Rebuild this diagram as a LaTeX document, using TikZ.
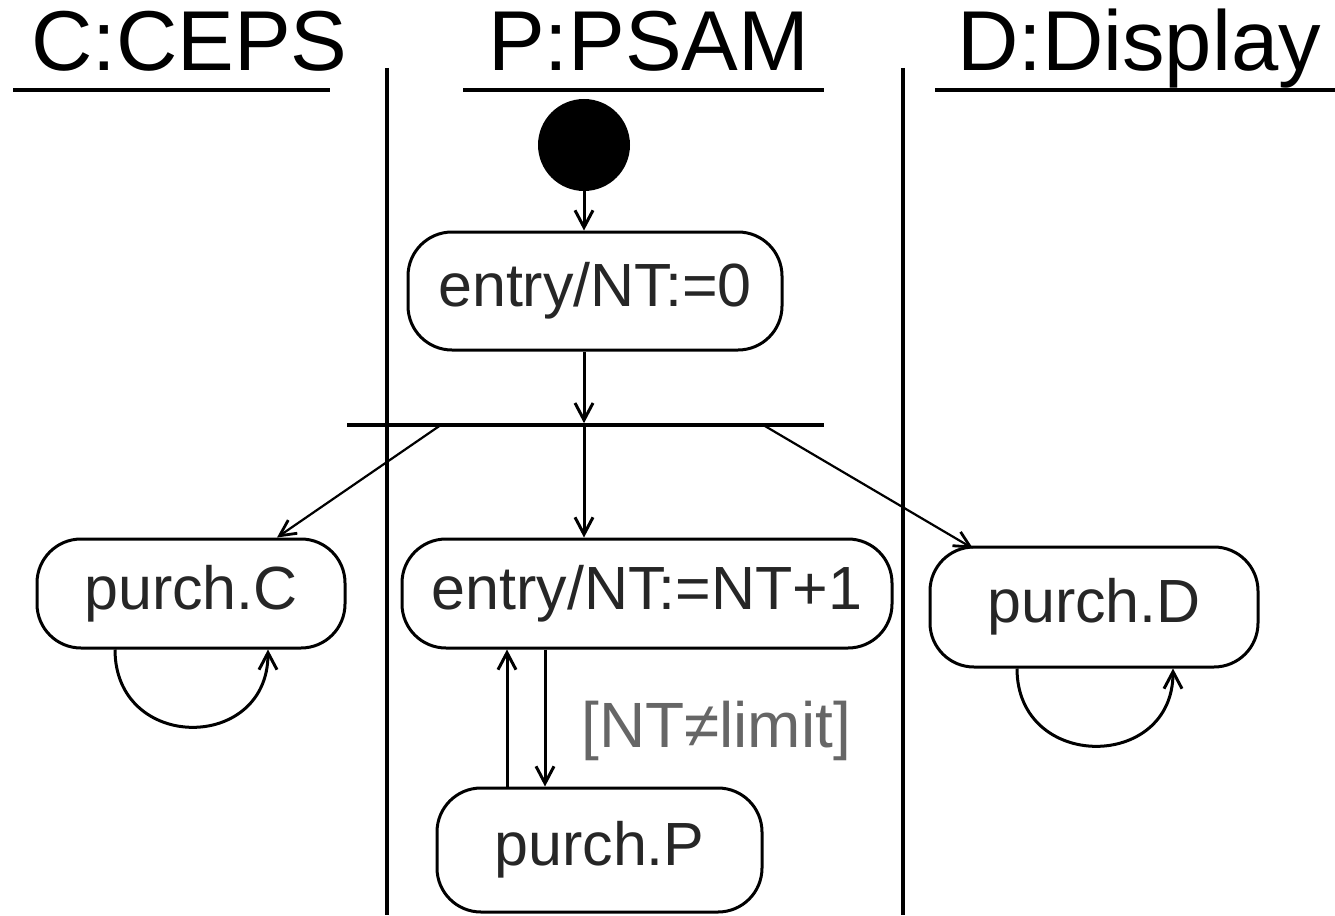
\documentclass[tikz,border=0pt]{standalone}
\usepackage{fontspec}
\setmainfont{Liberation Sans}
\usetikzlibrary{arrows.meta,calc}

\begin{document}
\begin{tikzpicture}[x=1pt,y=-1pt,
  state/.style={draw, line width=3pt, rounded corners=44pt, inner sep=0pt,
    font=\fontsize{61}{61}\selectfont, text=black!85},
  lanetitle/.style={inner sep=0pt, font=\fontsize{85}{85}\selectfont},
  lane/.style={line width=3.2pt},
  flow/.style={line width=3pt, -{Straight Barb[length=17pt,width=18pt,line width=3pt]}},
  thinflow/.style={line width=2.2pt, -{Straight Barb[length=16pt,width=16pt,line width=2.8pt]}},
  guard/.style={inner sep=0pt, font=\fontsize{64}{64}\selectfont, text=black!60}]
\useasboundingbox (0,0) rectangle (1335,915);

% swimlane headings
\node[lanetitle, anchor=base west] (tc) at (31,71) {C:CEPS};
\node[lanetitle, anchor=base west] (tp) at (488,71) {P:PSAM};
\node[lanetitle, anchor=base west] (td) at (957,71) {D:Display};
\draw[lane] (13,90) -- (330,90);
\draw[lane] (463,90) -- (824,90);
\draw[lane] (935,90) -- (1335,90);

% swimlane separators
\draw[lane] (387,68) -- (387,915);
\draw[lane] (903,68) -- (903,915);

% states
\node[circle, fill, minimum size=92pt, inner sep=0pt] (init) at (584,145) {};
\node[state, minimum width=374pt, minimum height=118pt] (e0) at (595,291) {entry/NT:=0};
\node[fill, minimum width=477pt, minimum height=3.2pt, inner sep=0pt] (bar) at (585.5,425) {};
\node[state, minimum width=490pt, minimum height=109pt] (e1) at (647,593.5) {entry/NT:=NT+1};
\node[state, minimum width=308pt, minimum height=109pt] (pc) at (191,593.5) {purch.C};
\node[state, minimum width=328pt, minimum height=120pt] (pd) at (1094,607) {purch.D};
\node[state, minimum width=325pt, minimum height=124pt] (pp) at (599.5,850) {purch.P};

% transitions
\draw[flow] (init.south) -- (init |- e0.north);
\draw[flow] (e0.south -| init) -- (bar.north -| init);
\draw[flow] (bar.south -| init) -- (e1.north -| init);
\draw[thinflow] ($(bar.west)+(94,0)$) -- ($(pc.north)+(86,0)$);
\draw[thinflow] ($(bar.east)+(-61,0)$) -- ($(pd.north)+(-121,3)$);
\draw[flow] ($(e1.south)+(-102,0)$) -- ($(pp.north)+(-54.5,0)$);
\draw[flow] ($(pp.north)+(-92.5,0)$) -- ($(e1.south)+(-140,0)$);
\node[guard, anchor=base west] (g) at (581,747) {[NT≠limit]};

% self loops
\draw[flow] ($(pc.south)+(-76,0)$) .. controls ($(pc.south)+(-76,103)$) and ($(pc.south)+(77,103)$) .. ($(pc.south)+(77,0)$);
\draw[flow] ($(pd.south)+(-77,0)$) .. controls ($(pd.south)+(-77,103)$) and ($(pd.south)+(79,103)$) .. ($(pd.south)+(79,0)$);
\end{tikzpicture}
\end{document}
